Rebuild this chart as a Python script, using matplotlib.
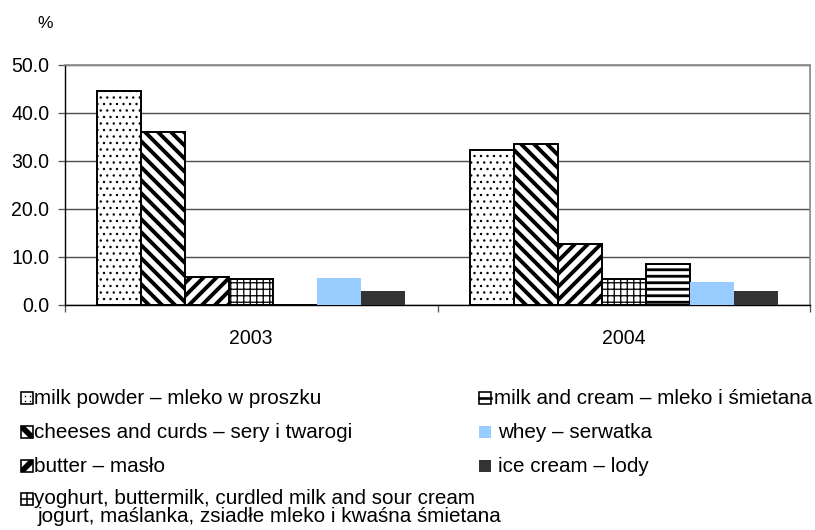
import matplotlib
matplotlib.use("Agg")
import matplotlib.pyplot as plt
from matplotlib.patches import Rectangle
from matplotlib import font_manager
import numpy as np

# --- data -------------------------------------------------------------
years = ["2003", "2004"]
series_names = [
    "milk powder – mleko w proszku",
    "cheeses and curds – sery i twarogi",
    "butter – masło",
    "yoghurt, buttermilk, curdled milk and sour cream\njogurt, maślanka, zsiadłe mleko i kwaśna śmietana",
    "milk and cream – mleko i śmietana",
    "whey – serwatka",
    "ice cream – lody",
]
milk_powder = [44.6, 32.3]
cheeses = [36.0, 33.5]
butter = [5.8, 12.8]
yoghurt = [5.5, 5.5]
milk_cream = [0.0, 8.5]
whey = [5.6, 4.8]
ice_cream = [3.0, 3.0]
y_ticks = [0, 10, 20, 30, 40, 50]

values = [milk_powder, cheeses, butter, yoghurt, milk_cream, whey, ice_cream]

# --- styles -----------------------------------------------------------
styles = [
    dict(fc="white", ec="black", hatch="..", hlw=1.0, key="dots"),
    dict(fc="white", ec="black", hatch="\\\\", hlw=3.6, key="back"),
    dict(fc="white", ec="black", hatch="//", hlw=3.6, key="fwd"),
    dict(fc="white", ec="black", hatch="++", hlw=1.2, key="grid"),
    dict(fc="white", ec="black", hatch="--", hlw=2.6, key="horiz"),
    dict(fc="#99CCFF", ec="none", hatch=None, hlw=1.0, key="solid"),
    dict(fc="#333333", ec="none", hatch=None, hlw=1.0, key="solid"),
]

names = {f.name for f in font_manager.fontManager.ttflist}
base_font = "Liberation Sans" if "Liberation Sans" in names else "DejaVu Sans"

DPI = 78
W, H = 815, 530
fig = plt.figure(figsize=(W / DPI, H / DPI), dpi=DPI)
plt.rcParams["font.family"] = [base_font, "DejaVu Sans"]

# plot area in pixel coordinates
ax_l, ax_r, ax_t, ax_b = 65, 810, 65, 305
ax = fig.add_axes([ax_l / W, 1 - ax_b / H, (ax_r - ax_l) / W, (ax_b - ax_t) / H])

n = len(values)
width = 0.118
x = np.arange(len(years))


def patch_kwargs(st, lw=1.8):
    kw = dict(facecolor=st["fc"], edgecolor=st["ec"])
    kw["linewidth"] = 0 if st["ec"] == "none" else lw
    if st["hatch"]:
        kw["hatch"] = st["hatch"]
    return kw


for i, (vals, st) in enumerate(zip(values, styles)):
    with plt.rc_context({"hatch.linewidth": st["hlw"], "hatch.color": "black"}):
        bars = ax.bar(x + (i - (n - 1) / 2) * width, vals, width,
                      zorder=3, **patch_kwargs(st))
    for b in bars:
        if hasattr(b, "set_hatch_linewidth"):
            b.set_hatch_linewidth(st["hlw"])

ax.set_xlim(-0.5, 1.5)
ax.set_ylim(0, 50)
ax.set_yticks(y_ticks)
ax.set_yticklabels([f"{v:.1f}" for v in y_ticks])
ax.yaxis.grid(True, color="#4d4d4d", linewidth=1.3, zorder=0)
ax.set_axisbelow(True)

ax.set_xticks(x)
ax.set_xticklabels(years)
ax.set_xticks([-0.5, 0.5, 1.5], minor=True)
ax.tick_params(axis="x", which="major", length=0, pad=22, labelsize=18)
ax.tick_params(axis="x", which="minor", length=6.5, width=1.2, color="#555555", direction="out")
ax.tick_params(axis="y", length=6.5, width=1.2, color="#555555", pad=8, labelsize=18)

for side in ("top", "right"):
    ax.spines[side].set_color("#8c8c8c")
    ax.spines[side].set_linewidth(1.6)
for side in ("left", "bottom"):
    ax.spines[side].set_color("black")
    ax.spines[side].set_linewidth(1.3)

# unit label
fig.text(45 / W, 1 - 23 / H, "%", ha="center", va="center", fontsize=16)

# --- legend drawn in pixel space -------------------------------------
lg = fig.add_axes([0, 0, 1, 1])
lg.set_xlim(0, W)
lg.set_ylim(H, 0)
lg.axis("off")

box = 12
cols = [(21, 34)] * 4 + [(479, 494)] * 3
row_y = [398, 432, 466, 499, 398, 432, 466]
legend_size = 19
line_gap = 18


def draw_key(x0, yc, st):
    y0 = yc - box / 2
    x1, y1 = x0 + box, y0 + box
    k = st["key"]
    if k == "solid":
        lg.add_patch(Rectangle((x0, y0), box, box, facecolor=st["fc"], edgecolor="none"))
        return
    lg.add_patch(Rectangle((x0, y0), box, box, facecolor="white", edgecolor="black",
                           linewidth=1.5, zorder=2))
    if k == "dots":
        for dx, dy in [(3.5, 3.5), (8.5, 3.5), (3.5, 8.5), (8.5, 8.5)]:
            lg.plot(x0 + dx, y0 + dy, "s", ms=1.3, color="black", mec="none", zorder=3)
    elif k == "back":
        lg.fill([x0, x0 + 4, x1, x1, x1 - 4, x0], [y0, y0, y1 - 4, y1, y1, y0 + 4],
                color="black", lw=0, zorder=3)
    elif k == "fwd":
        lg.fill([x0, x0, x1 - 4, x1, x1, x0 + 4], [y1, y1 - 4, y0, y0, y0 + 4, y1],
                color="black", lw=0, zorder=3)
    elif k == "grid":
        lg.plot([x0 + box / 2] * 2, [y0, y1], color="black", lw=1.4, zorder=3)
        lg.plot([x0, x1], [y0 + box / 2] * 2, color="black", lw=1.4, zorder=3)
    elif k == "horiz":
        lg.plot([x0, x1], [y0 + box / 2] * 2, color="black", lw=2.4, zorder=3)


for name, st, (mx, tx), cy in zip(series_names, styles, cols, row_y):
    draw_key(mx, cy, st)
    if st["key"] == "solid":
        tx += 4
    for j, line in enumerate(name.split("\n")):
        lg.text(tx + (4 if j else 0), cy + j * line_gap, line, ha="left", va="center",
                fontsize=legend_size)

fig.savefig("out.png", dpi=DPI)
